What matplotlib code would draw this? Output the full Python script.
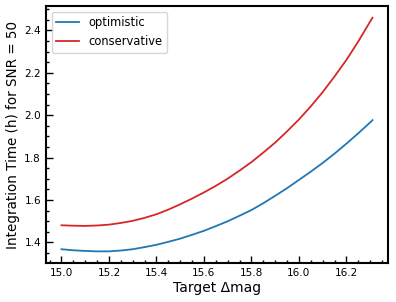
import matplotlib
matplotlib.use("Agg")
import matplotlib.pyplot as plt
from matplotlib.ticker import MultipleLocator

delta_mag = [15.0, 15.05, 15.1, 15.15, 15.2, 15.25, 15.3, 15.35, 15.4, 15.45, 15.5, 15.55,
             15.6, 15.65, 15.7, 15.75, 15.8, 15.85, 15.9, 15.95, 16.0, 16.05, 16.1, 16.15,
             16.2, 16.25, 16.3, 16.31]
optimistic = [1.368, 1.363, 1.360, 1.358, 1.358, 1.362, 1.368, 1.378, 1.389, 1.403, 1.418, 1.436,
              1.455, 1.477, 1.500, 1.526, 1.553, 1.585, 1.620, 1.656, 1.695, 1.734, 1.775, 1.819,
              1.866, 1.915, 1.966, 1.977]
conservative = [1.481, 1.479, 1.478, 1.480, 1.484, 1.492, 1.502, 1.516, 1.533, 1.555, 1.580, 1.607,
                1.636, 1.667, 1.701, 1.739, 1.779, 1.824, 1.871, 1.924, 1.980, 2.042, 2.109, 2.183,
                2.261, 2.348, 2.442, 2.460]

fig = plt.figure(figsize=(3.96, 3.02), dpi=100)
ax = fig.add_axes([0.116, 0.129, 0.864, 0.851])

ax.plot(delta_mag, optimistic, color="#1f77b4", lw=1.3, label="optimistic")
ax.plot(delta_mag, conservative, color="#d62728", lw=1.3, label="conservative")

ax.set_xlabel("Target \u0394mag", fontsize=10, labelpad=2)
ax.set_ylabel("Integration Time (h) for SNR = 50", fontsize=9.75, labelpad=3)

ax.xaxis.set_major_locator(MultipleLocator(0.2))
ax.xaxis.set_minor_locator(MultipleLocator(0.05))
ax.yaxis.set_major_locator(MultipleLocator(0.2))
ax.yaxis.set_minor_locator(MultipleLocator(0.05))
ax.tick_params(which="both", direction="in", labelsize=7.6, width=1.0)
ax.tick_params(which="major", length=5)
ax.tick_params(which="minor", length=2.5)
for s in ax.spines.values():
    s.set_linewidth(1.5)

ax.legend(loc="upper left", fontsize=8.3, handlelength=2.0)

fig.savefig("out.png", dpi=100)
